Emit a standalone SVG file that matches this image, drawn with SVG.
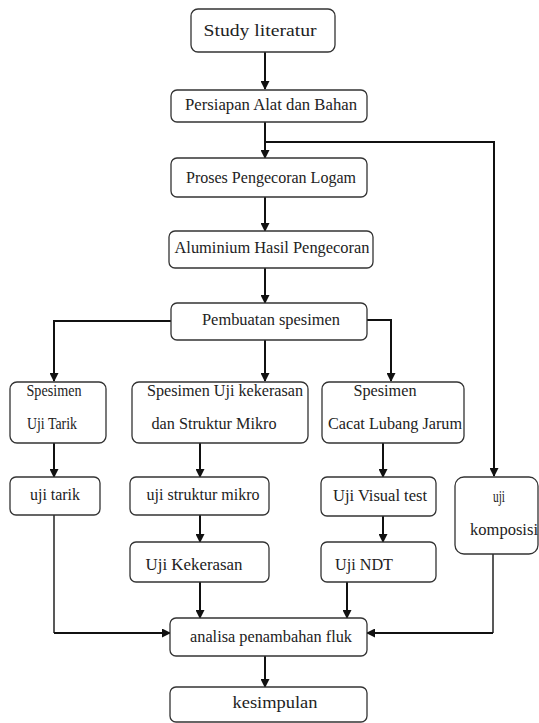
<svg xmlns="http://www.w3.org/2000/svg" width="539" height="723" viewBox="0 0 539 723">
<defs>
<marker id="ah" markerWidth="9" markerHeight="9" refX="8" refY="4.5" orient="auto" markerUnits="userSpaceOnUse">
<path d="M0,0 L9,4.5 L0,9 z" fill="#111"/>
</marker>
<style>
.box{fill:#fff;stroke:#333;stroke-width:1.3}
text{font-family:'Liberation Serif','Times New Roman',serif;font-size:16px;fill:#222;text-anchor:middle}
.c{fill:none;stroke:#111;stroke-width:2}
.thin{fill:none;stroke:#222;stroke-width:1.5}
</style>
</defs>
<rect width="539" height="723" fill="#fff"/>
<g id="connectors">
<line class="c" x1="265" y1="52" x2="265" y2="89" marker-end="url(#ah)"/>
<line class="c" x1="265" y1="122" x2="265" y2="158" marker-end="url(#ah)"/>
<polyline class="c" points="265,142 494,142 494,476" marker-end="url(#ah)"/>
<line class="c" x1="265" y1="197" x2="265" y2="231" marker-end="url(#ah)"/>
<line class="c" x1="265" y1="268" x2="265" y2="303" marker-end="url(#ah)"/>
<polyline class="c" points="171,321 54,321 54,381" marker-end="url(#ah)"/>
<line class="c" x1="265" y1="340" x2="265" y2="381" marker-end="url(#ah)"/>
<polyline class="c" points="367,320 391,320 391,381" marker-end="url(#ah)"/>
<line class="c" x1="54" y1="443" x2="54" y2="477" marker-end="url(#ah)"/>
<line class="c" x1="200" y1="443" x2="200" y2="477" marker-end="url(#ah)"/>
<line class="c" x1="383" y1="443" x2="383" y2="477" marker-end="url(#ah)"/>
<line class="c" x1="200" y1="515" x2="200" y2="542" marker-end="url(#ah)"/>
<line class="c" x1="383" y1="516" x2="383" y2="542" marker-end="url(#ah)"/>
<polyline class="thin" points="54,515 54,633"/>
<line class="c" x1="54" y1="633" x2="170" y2="633" marker-end="url(#ah)"/>
<polyline class="thin" points="493,554 493,633"/>
<line class="c" x1="493" y1="633" x2="367" y2="633" marker-end="url(#ah)"/>
<line class="c" x1="200" y1="582" x2="200" y2="618" marker-end="url(#ah)"/>
<line class="c" x1="347" y1="582" x2="347" y2="618" marker-end="url(#ah)"/>
<line class="c" x1="265" y1="656" x2="265" y2="687" marker-end="url(#ah)"/>
</g>
<g font-family="Liberation Serif, Times New Roman, serif" font-size="16">
<g id="n-study"><rect class="box" x="191" y="9" width="144" height="43" rx="7"/><text x="260" y="36" textLength="113" lengthAdjust="spacingAndGlyphs">Study literatur</text></g>
<g id="n-persiapan"><rect class="box" x="171" y="90" width="196" height="32" rx="6"/><text x="271" y="110" textLength="172" lengthAdjust="spacingAndGlyphs">Persiapan Alat dan Bahan</text></g>
<g id="n-proses"><rect class="box" x="171" y="158" width="196" height="39" rx="6"/><text x="271" y="183" textLength="170" lengthAdjust="spacingAndGlyphs">Proses Pengecoran Logam</text></g>
<g id="n-aluminium"><rect class="box" x="169" y="231" width="204" height="37" rx="6"/><text x="272" y="253" textLength="195" lengthAdjust="spacingAndGlyphs">Aluminium Hasil Pengecoran</text></g>
<g id="n-pembuatan"><rect class="box" x="171" y="303" width="196" height="37" rx="6"/><text x="271" y="325" textLength="138" lengthAdjust="spacingAndGlyphs">Pembuatan spesimen</text></g>
<g id="n-sp-tarik"><rect class="box" x="10" y="382" width="96" height="61" rx="7"/><text x="54" y="396" textLength="55" lengthAdjust="spacingAndGlyphs">Spesimen</text><text x="52" y="429" textLength="50" lengthAdjust="spacingAndGlyphs">Uji Tarik</text></g>
<g id="n-sp-keras"><rect class="box" x="132" y="382" width="176" height="61" rx="7"/><text x="225" y="396" textLength="156" lengthAdjust="spacingAndGlyphs">Spesimen Uji kekerasan</text><text x="214" y="429" textLength="125" lengthAdjust="spacingAndGlyphs">dan Struktur Mikro</text></g>
<g id="n-sp-cacat"><rect class="box" x="322" y="382" width="142" height="61" rx="7"/><text x="385" y="396" textLength="63" lengthAdjust="spacingAndGlyphs">Spesimen</text><text x="395" y="429" textLength="134" lengthAdjust="spacingAndGlyphs">Cacat Lubang Jarum</text></g>
<g id="n-ujitarik"><rect class="box" x="10" y="477" width="90" height="38" rx="6"/><text x="55" y="500" textLength="50" lengthAdjust="spacingAndGlyphs">uji tarik</text></g>
<g id="n-struktur"><rect class="box" x="130" y="477" width="139" height="38" rx="6"/><text x="203" y="500" textLength="113" lengthAdjust="spacingAndGlyphs">uji struktur mikro</text></g>
<g id="n-kekerasan"><rect class="box" x="130" y="542" width="139" height="40" rx="6"/><text x="194" y="570" textLength="97" lengthAdjust="spacingAndGlyphs">Uji Kekerasan</text></g>
<g id="n-visual"><rect class="box" x="321" y="477" width="115" height="39" rx="6"/><text x="380" y="501" textLength="94" lengthAdjust="spacingAndGlyphs">Uji Visual test</text></g>
<g id="n-ndt"><rect class="box" x="321" y="542" width="115" height="40" rx="6"/><text x="364" y="570" textLength="58" lengthAdjust="spacingAndGlyphs">Uji NDT</text></g>
<g id="n-komposisi"><rect class="box" x="455" y="477" width="83" height="77" rx="9"/><text x="499" y="502" textLength="12" lengthAdjust="spacingAndGlyphs">uji</text><text x="504" y="535" textLength="68" lengthAdjust="spacingAndGlyphs">komposisi</text></g>
<g id="n-analisa"><rect class="box" x="170" y="618" width="197" height="38" rx="6"/><text x="271" y="642" textLength="162" lengthAdjust="spacingAndGlyphs">analisa penambahan fluk</text></g>
<g id="n-kesimpulan"><rect class="box" x="170" y="687" width="197" height="35" rx="6"/><text x="275" y="708" textLength="85" lengthAdjust="spacingAndGlyphs">kesimpulan</text></g>
</g>
</svg>
